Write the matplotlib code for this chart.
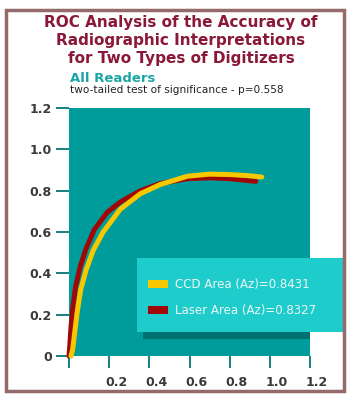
import matplotlib.pyplot as plt
import matplotlib.transforms as mtransforms
from matplotlib.patches import Rectangle, Patch

# ROC curves (false positive fraction, true positive fraction)
ccd_x = [0.01, 0.018, 0.03, 0.042, 0.058, 0.085, 0.12, 0.17, 0.255, 0.355, 0.455, 0.59, 0.70, 0.80, 0.90, 0.96]
ccd_y = [0.0, 0.03, 0.126, 0.22, 0.32, 0.416, 0.51, 0.60, 0.71, 0.785, 0.83, 0.87, 0.88, 0.878, 0.872, 0.866]

laser_x = [0.0, 0.004, 0.01, 0.019, 0.032, 0.055, 0.085, 0.125, 0.19, 0.255, 0.355, 0.455, 0.59, 0.70, 0.80, 0.93]
laser_y = [0.0, 0.05, 0.14, 0.235, 0.33, 0.43, 0.52, 0.61, 0.695, 0.745, 0.80, 0.835, 0.858, 0.862, 0.858, 0.845]

ticks = [0, 0.2, 0.4, 0.6, 0.8, 1.0, 1.2]
ytick_labels = ["0", "0.2", "0.4", "0.6", "0.8", "1.0", "1.2"]
xtick_labels = ["", "0.2", "0.4", "0.6", "0.8", "1.0", "1.2"]

title_lines = ["ROC Analysis of the Accuracy of",
               "Radiographic Interpretations",
               "for Two Types of Digitizers"]
legend_labels = ["CCD Area (Az)=0.8431", "Laser Area (Az)=0.8327"]

teal = "#009c9c"
maroon = "#8a1838"
yellow = "#f7c800"
red = "#a00808"

W, H = 348, 394
fig = plt.figure(figsize=(W / 100, H / 100), dpi=100)
fig.patch.set_facecolor("white")

def fx(px):
    return px / W

def fy(py):
    return 1 - py / H

ax = fig.add_axes([fx(69), fy(356), fx(310) - fx(69), fy(108) - fy(356)])
ax.set_facecolor(teal)
for s in ax.spines.values():
    s.set_visible(False)

ax.plot(laser_x, laser_y, color=red, lw=3.6, solid_capstyle="round", zorder=3, clip_on=False)
ax.plot(ccd_x, ccd_y, color=yellow, lw=3.6, solid_capstyle="round", zorder=3, clip_on=False)

ax.set_xlim(0, 1.2)
ax.set_ylim(0, 1.2)
ax.set_xticks(ticks)
ax.set_xticklabels(xtick_labels)
ax.set_yticks(ticks)
ax.set_yticklabels(ytick_labels)
ax.tick_params(axis="y", length=9.5, width=1.4, color="#1a8080", pad=3,
               labelsize=9, labelcolor="#3a3a3a")
ax.tick_params(axis="x", length=8.5, width=1.4, color="#1a8080", pad=6,
               labelsize=9, labelcolor="#3a3a3a")
for lab in ax.get_xticklabels() + ax.get_yticklabels():
    lab.set_fontweight("bold")
shift = mtransforms.ScaledTranslation(7 / 100, 0, fig.dpi_scale_trans)
for lab in ax.get_xticklabels():
    lab.set_transform(lab.get_transform() + shift)

# legend shadow and box, drawn by hand so the entries can sit where they should
shadow = Rectangle((fx(143), fy(339)), fx(345) - fx(143), fy(264) - fy(339),
                   transform=fig.transFigure, facecolor="#007070", edgecolor="none", zorder=4)
ax.add_patch(shadow)
box = Rectangle((fx(137), fy(332)), fx(345) - fx(137), fy(258) - fy(332),
                transform=fig.transFigure, facecolor="#1ecccc", edgecolor="none",
                zorder=4.5, clip_on=False)
ax.add_patch(box)
handles = [Patch(facecolor=yellow, edgecolor="none"), Patch(facecolor=red, edgecolor="none")]
leg = ax.legend(handles, legend_labels, loc="center left",
                bbox_to_anchor=(fx(148), fy(297.5)), bbox_transform=fig.transFigure,
                frameon=False, fontsize=8.5, labelcolor="#eef6f6",
                handlelength=1.7, handleheight=0.65, handletextpad=0.6,
                labelspacing=1.12, borderpad=0, borderaxespad=0)
leg.set_zorder(5)

# titles
for i, line in enumerate(title_lines):
    fig.text(fx(181), fy(22 + i * 18.5), line, ha="center", va="center",
             fontsize=11, fontweight="heavy", color=maroon)
fig.text(fx(70), fy(78), "All Readers", ha="left", va="center",
         fontsize=9.5, fontweight="semibold", color="#1aa6a6")
fig.text(fx(70), fy(90), "two-tailed test of significance - p=0.558", ha="left", va="center",
         fontsize=7.6, color="#222222")

# outer frame
fig.add_artist(Rectangle((fx(6), fy(391)), fx(344) - fx(6), fy(10) - fy(391),
                         transform=fig.transFigure, fill=False, edgecolor="#946a6a", lw=2.5))

fig.savefig("out.png", dpi=100)
